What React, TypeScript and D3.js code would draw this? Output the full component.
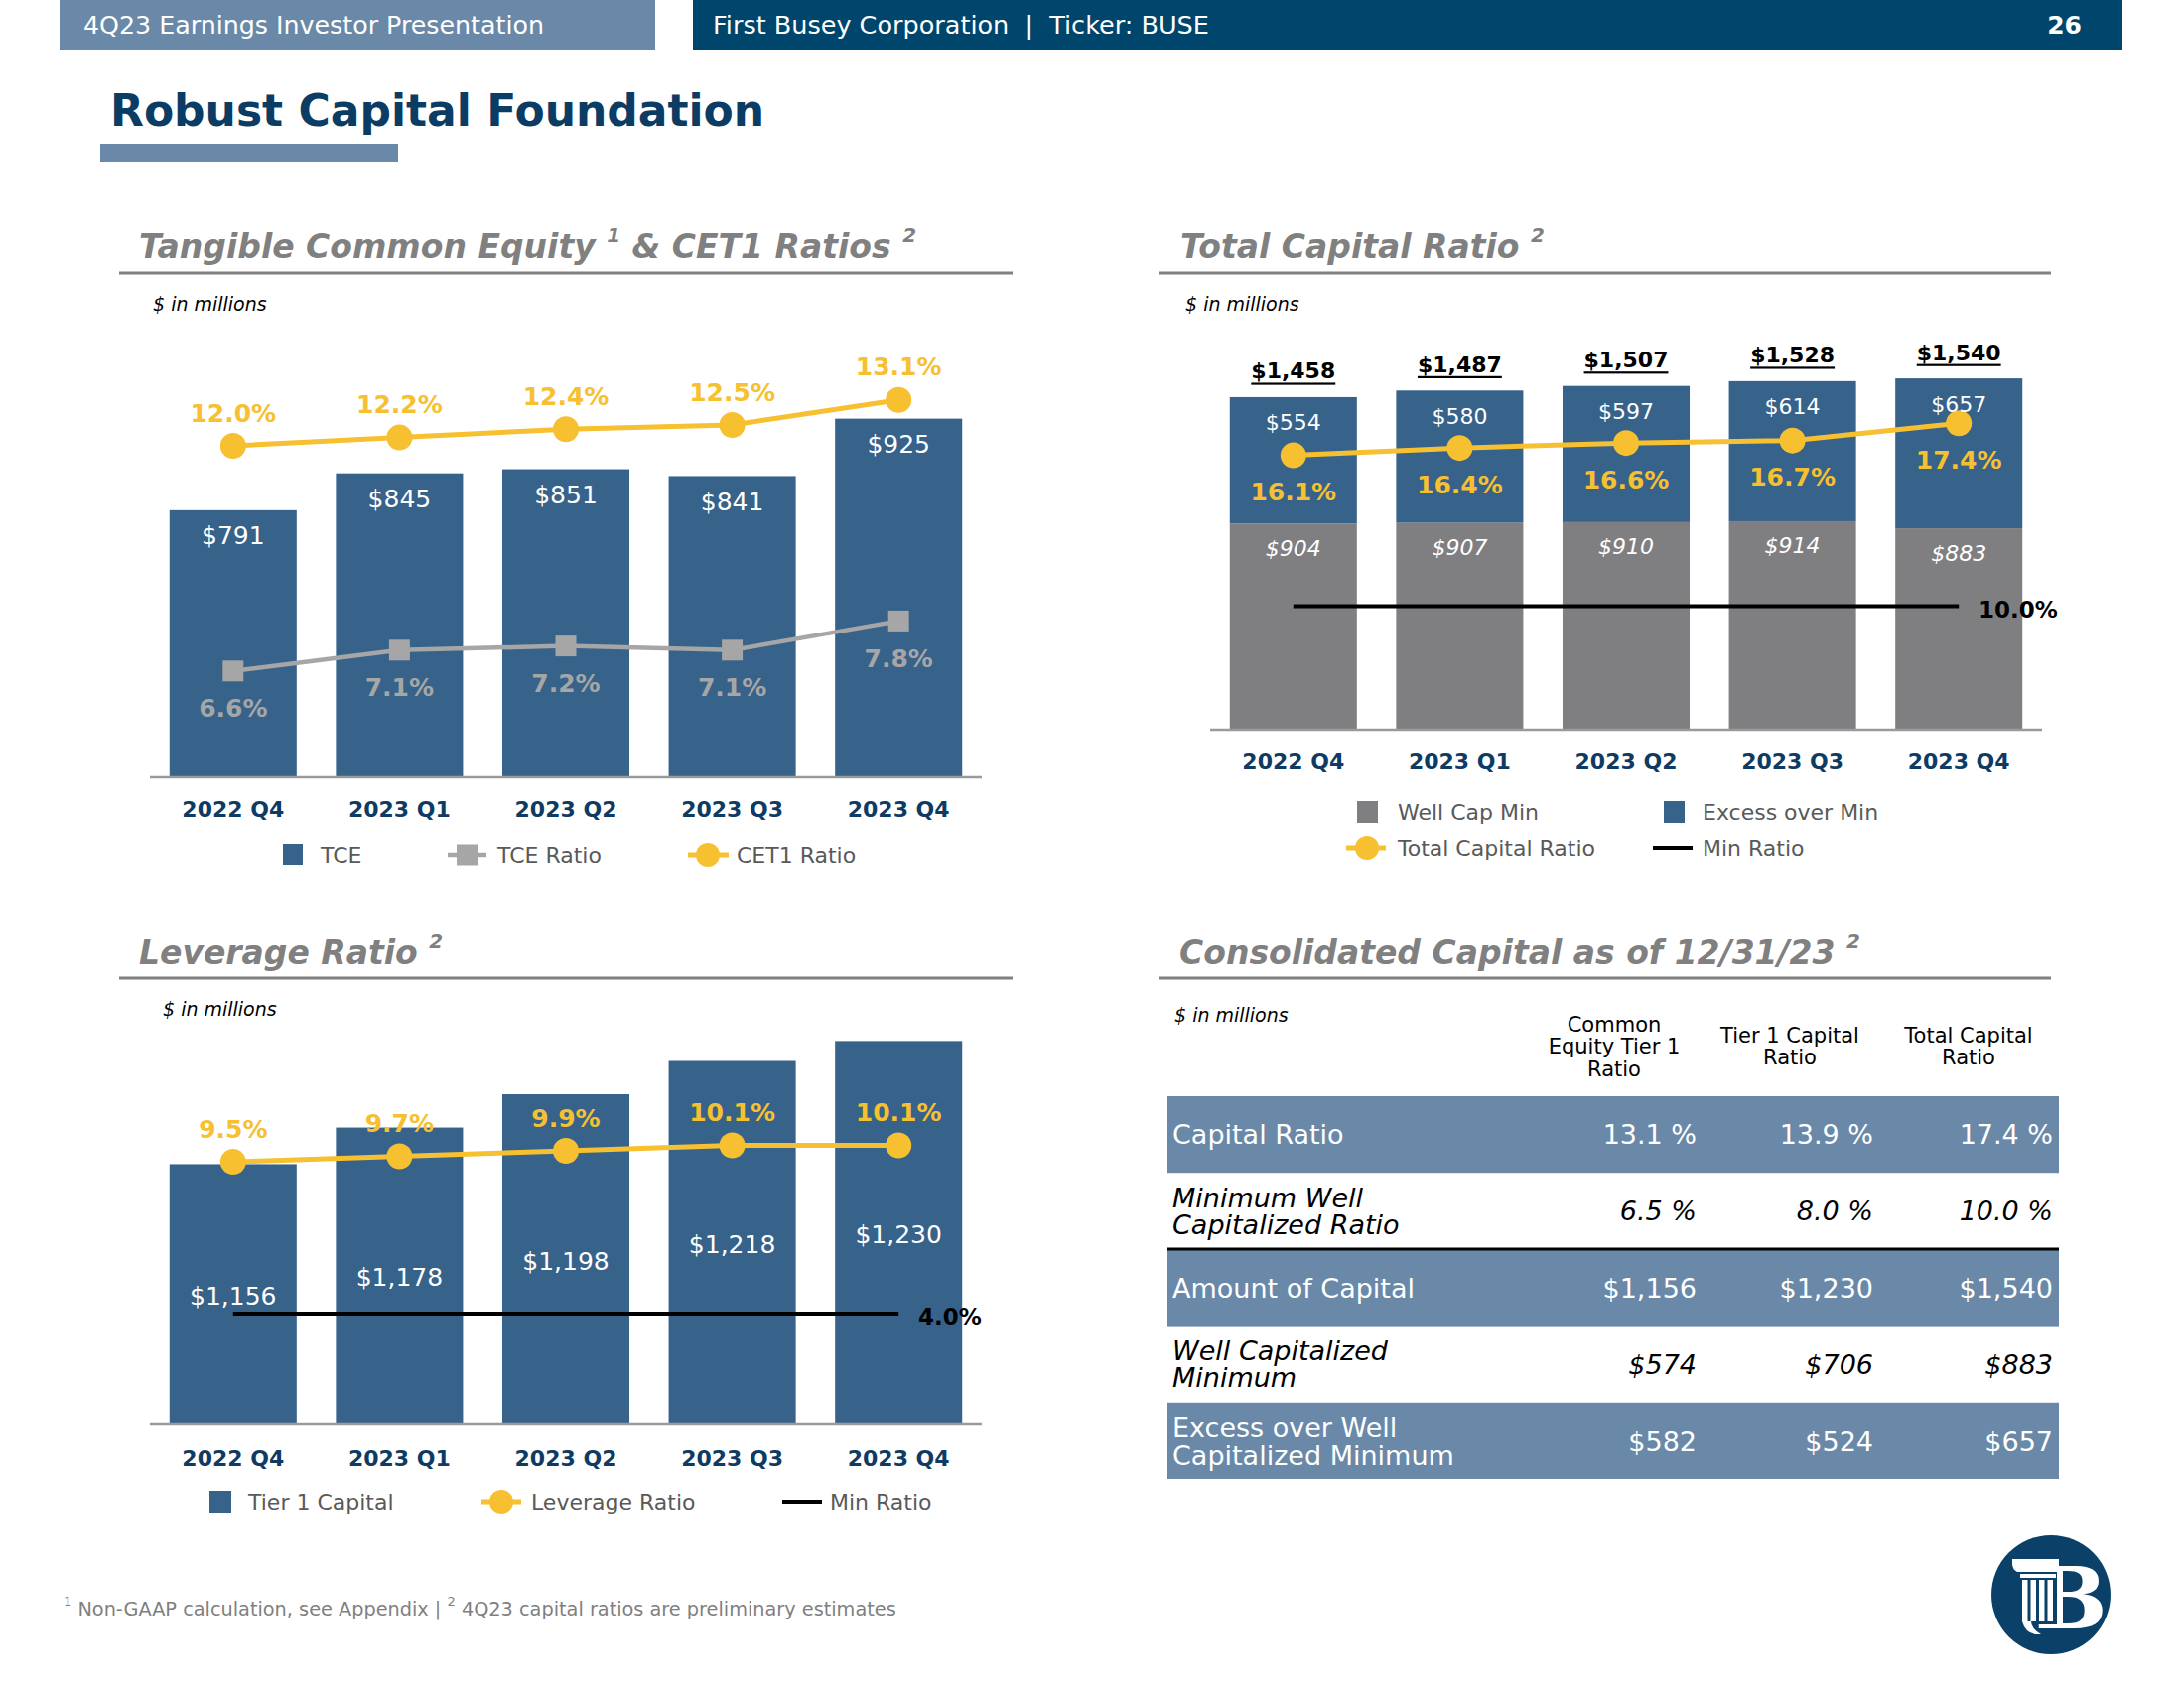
import React from 'react';
import * as d3 from 'd3';

const quarters = ['2022 Q4', '2023 Q1', '2023 Q2', '2023 Q3', '2023 Q4'];
const tceValues = [791, 845, 851, 841, 925];
const tceRatio = [6.6, 7.1, 7.2, 7.1, 7.8];
const cet1Ratio = [12.0, 12.2, 12.4, 12.5, 13.1];
const wellCapMin = [904, 907, 910, 914, 883];
const excessOverMin = [554, 580, 597, 614, 657];
const totalCapital = [1458, 1487, 1507, 1528, 1540];
const totalCapitalRatio = [16.1, 16.4, 16.6, 16.7, 17.4];
const totalCapitalMin = 10.0;
const tier1Capital = [1156, 1178, 1198, 1218, 1230];
const leverageRatio = [9.5, 9.7, 9.9, 10.1, 10.1];
const leverageMin = 4.0;

const tableHeaders = [['Common', 'Equity Tier 1', 'Ratio'], ['Tier 1 Capital', 'Ratio'], ['Total Capital', 'Ratio']];
const tableRowLabels = [['Capital Ratio'], ['Minimum Well', 'Capitalized Ratio'], ['Amount of Capital'], ['Well Capitalized', 'Minimum'], ['Excess over Well', 'Capitalized Minimum']];
const tableValues = [
  ['13.1 %', '13.9 %', '17.4 %'],
  ['6.5 %', '8.0 %', '10.0 %'],
  ['$1,156', '$1,230', '$1,540'],
  ['$574', '$706', '$883'],
  ['$582', '$524', '$657'],
];
const tableShaded = [true, false, true, false, true];

const FONT = 'DejaVu Sans';
const NAVY = '#00456B';
const STEEL = '#6A89A8';
const BAR = '#37628A';
const YELLOW = '#F6C030';
const GRAYLINE = '#A6A6A6';
const WELLGRAY = '#7F7F82';
const TITLEGRAY = '#808080';
const CATNAVY = '#0E3B63';
const LEGTEXT = '#595959';
const LOGO = '#0B4169';

const money = (v: number) => '$' + d3.format(',')(v);
const pct = (v: number) => v.toFixed(1) + '%';

function band(range: [number, number]) {
  return d3.scaleBand<string>().domain(quarters).range(range).paddingInner(0.236).paddingOuter(0.118);
}

function SectionTitle({ x, y, text, sups }: { x: number; y: number; text: string[]; sups: string[] }) {
  const parts: any[] = [];
  text.forEach((t, i) => {
    parts.push(<tspan key={'t' + i} dy={i === 0 ? 0 : 16}>{t}</tspan>);
    if (sups[i]) parts.push(<tspan key={'s' + i} dy={-16} fontSize={20}>{sups[i]}</tspan>);
  });
  return (
    <text x={x} y={y} fontFamily={FONT} fontWeight="bold" fontStyle="italic" fontSize={33} fill={TITLEGRAY}>
      {parts}
    </text>
  );
}

function Axis({ x, y }: { x: d3.ScaleBand<string>; y: number }) {
  const [a, b] = x.range();
  return <line x1={a} x2={b} y1={y} y2={y} stroke="#9A9A9A" strokeWidth={2.5} />;
}

function Categories({ x, y }: { x: d3.ScaleBand<string>; y: number }) {
  return (
    <g>
      {quarters.map((q) => (
        <text key={q} x={(x(q) as number) + x.bandwidth() / 2} y={y} textAnchor="middle" dominantBaseline="central"
          fontFamily={FONT} fontWeight="bold" fontSize={22} fill={CATNAVY}>{q}</text>
      ))}
    </g>
  );
}

function Chart1() {
  const x = band([151, 989]);
  const y = d3.scaleLinear().domain([400, 1000]).range([783, 370]);
  const yr = d3.scaleLinear().domain([4, 14]).range([785, 365]);
  const cx = (i: number) => (x(quarters[i]) as number) + x.bandwidth() / 2;
  const line = d3.line<number>().x((_, i) => cx(i)).y((d) => yr(d));
  return (
    <g>
      {tceValues.map((v, i) => (
        <rect key={i} x={x(quarters[i])} y={y(v)} width={x.bandwidth()} height={y(400) - y(v)} fill={BAR} />
      ))}
      <Axis x={x} y={783} />
      <path d={line(tceRatio) as string} fill="none" stroke={GRAYLINE} strokeWidth={4.5} />
      {tceRatio.map((v, i) => (
        <rect key={i} x={cx(i) - 10.5} y={yr(v) - 10.5} width={21} height={21} fill={GRAYLINE} />
      ))}
      <path d={line(cet1Ratio) as string} fill="none" stroke={YELLOW} strokeWidth={5} />
      {cet1Ratio.map((v, i) => (
        <circle key={i} cx={cx(i)} cy={yr(v)} r={13} fill={YELLOW} />
      ))}
      {tceValues.map((v, i) => (
        <text key={i} x={cx(i)} y={y(v) + 26} textAnchor="middle" dominantBaseline="central" fontFamily={FONT}
          fontSize={25} fill="#FFFFFF">{money(v)}</text>
      ))}
      {cet1Ratio.map((v, i) => (
        <text key={i} x={cx(i)} y={yr(v) - 33} textAnchor="middle" dominantBaseline="central" fontFamily={FONT}
          fontWeight="bold" fontSize={25} fill={YELLOW}>{pct(v)}</text>
      ))}
      {tceRatio.map((v, i) => (
        <text key={i} x={cx(i)} y={yr(v) + 38} textAnchor="middle" dominantBaseline="central" fontFamily={FONT}
          fontWeight="bold" fontSize={25} fill={GRAYLINE}>{pct(v)}</text>
      ))}
      <Categories x={x} y={815} />
      <rect x={285} y={850} width={20} height={21} fill={BAR} />
      <text x={323} y={861} dominantBaseline="central" fontFamily={FONT} fontSize={22} fill={LEGTEXT}>TCE</text>
      <line x1={451} x2={490} y1={861} y2={861} stroke={GRAYLINE} strokeWidth={4.5} />
      <rect x={460} y={850.5} width={21} height={21} fill={GRAYLINE} />
      <text x={501} y={861} dominantBaseline="central" fontFamily={FONT} fontSize={22} fill={LEGTEXT}>TCE Ratio</text>
      <line x1={693} x2={734} y1={861} y2={861} stroke={YELLOW} strokeWidth={5} />
      <circle cx={713} cy={861} r={12} fill={YELLOW} />
      <text x={742} y={861} dominantBaseline="central" fontFamily={FONT} fontSize={22} fill={LEGTEXT}>CET1 Ratio</text>
    </g>
  );
}

function Chart2() {
  const x = band([1219, 2057]);
  const y = d3.scaleLinear().domain([0, 1800]).range([735, 735 - 1800 * 0.2298]);
  const yr = d3.scaleLinear().domain([5, 20]).range([735, 735 - 15 * 24.9]);
  const cx = (i: number) => (x(quarters[i]) as number) + x.bandwidth() / 2;
  const line = d3.line<number>().x((_, i) => cx(i)).y((d) => yr(d));
  return (
    <g>
      {wellCapMin.map((v, i) => (
        <rect key={'g' + i} x={x(quarters[i])} y={y(v)} width={x.bandwidth()} height={y(0) - y(v)} fill={WELLGRAY} />
      ))}
      {excessOverMin.map((v, i) => (
        <rect key={'b' + i} x={x(quarters[i])} y={y(wellCapMin[i] + v)} width={x.bandwidth()}
          height={y(wellCapMin[i]) - y(wellCapMin[i] + v)} fill={BAR} />
      ))}
      <Axis x={x} y={735} />
      <line x1={cx(0)} x2={cx(4)} y1={yr(totalCapitalMin)} y2={yr(totalCapitalMin)} stroke="#000" strokeWidth={4} />
      <text x={1993} y={yr(totalCapitalMin) + 3} dominantBaseline="central" fontFamily={FONT} fontWeight="bold"
        fontSize={23} fill="#000">{pct(totalCapitalMin)}</text>
      <path d={line(totalCapitalRatio) as string} fill="none" stroke={YELLOW} strokeWidth={5} />
      {totalCapitalRatio.map((v, i) => (
        <circle key={i} cx={cx(i)} cy={yr(v)} r={13} fill={YELLOW} />
      ))}
      {totalCapital.map((v, i) => (
        <text key={'t' + i} x={cx(i)} y={y(v) - 26} textAnchor="middle" dominantBaseline="central" fontFamily={FONT}
          fontWeight="bold" fontSize={22} fill="#000" style={{ textDecoration: 'underline' }}>{money(v)}</text>
      ))}
      {excessOverMin.map((v, i) => (
        <text key={'e' + i} x={cx(i)} y={y(wellCapMin[i] + v) + 26} textAnchor="middle" dominantBaseline="central"
          fontFamily={FONT} fontSize={22} fill="#FFFFFF">{money(v)}</text>
      ))}
      {wellCapMin.map((v, i) => (
        <text key={'w' + i} x={cx(i)} y={y(v) + 25} textAnchor="middle" dominantBaseline="central"
          fontFamily={FONT} fontStyle="italic" fontSize={22} fill="#FFFFFF">{money(v)}</text>
      ))}
      {totalCapitalRatio.map((v, i) => (
        <text key={'r' + i} x={cx(i)} y={yr(v) + 37} textAnchor="middle" dominantBaseline="central" fontFamily={FONT}
          fontWeight="bold" fontSize={25} fill={YELLOW}>{pct(v)}</text>
      ))}
      <Categories x={x} y={766} />
      <rect x={1367} y={807} width={21} height={22} fill={WELLGRAY} />
      <text x={1408} y={818} dominantBaseline="central" fontFamily={FONT} fontSize={22} fill={LEGTEXT}>Well Cap Min</text>
      <rect x={1676} y={807} width={21} height={22} fill={BAR} />
      <text x={1715} y={818} dominantBaseline="central" fontFamily={FONT} fontSize={22} fill={LEGTEXT}>Excess over Min</text>
      <line x1={1356} x2={1396} y1={854} y2={854} stroke={YELLOW} strokeWidth={5} />
      <circle cx={1377} cy={854} r={12} fill={YELLOW} />
      <text x={1408} y={854} dominantBaseline="central" fontFamily={FONT} fontSize={22} fill={LEGTEXT}>Total Capital Ratio</text>
      <line x1={1665} x2={1705} y1={854} y2={854} stroke="#000" strokeWidth={4} />
      <text x={1715} y={854} dominantBaseline="central" fontFamily={FONT} fontSize={22} fill={LEGTEXT}>Min Ratio</text>
    </g>
  );
}

function Chart3() {
  const x = band([151, 989]);
  const y = d3.scaleLinear().domain([1000, 1300]).range([1434, 931]);
  const yr = d3.scaleLinear().domain([0, 18]).range([1434, 934]);
  const cx = (i: number) => (x(quarters[i]) as number) + x.bandwidth() / 2;
  const line = d3.line<number>().x((_, i) => cx(i)).y((d) => yr(d));
  return (
    <g>
      {tier1Capital.map((v, i) => (
        <rect key={i} x={x(quarters[i])} y={y(v)} width={x.bandwidth()} height={y(1000) - y(v)} fill={BAR} />
      ))}
      <Axis x={x} y={1434} />
      {tier1Capital.map((v, i) => (
        <text key={'l' + i} x={cx(i)} y={(y(v) + y(1000)) / 2 + 2} textAnchor="middle" dominantBaseline="central"
          fontFamily={FONT} fontSize={25} fill="#FFFFFF">{money(v)}</text>
      ))}
      <line x1={cx(0)} x2={cx(4)} y1={yr(leverageMin)} y2={yr(leverageMin)} stroke="#000" strokeWidth={4} />
      <text x={925} y={yr(leverageMin) + 3} dominantBaseline="central" fontFamily={FONT} fontWeight="bold"
        fontSize={23} fill="#000">{pct(leverageMin)}</text>
      <path d={line(leverageRatio) as string} fill="none" stroke={YELLOW} strokeWidth={5} />
      {leverageRatio.map((v, i) => (
        <circle key={i} cx={cx(i)} cy={yr(v)} r={13} fill={YELLOW} />
      ))}
      {leverageRatio.map((v, i) => (
        <text key={'r' + i} x={cx(i)} y={yr(v) - 33} textAnchor="middle" dominantBaseline="central" fontFamily={FONT}
          fontWeight="bold" fontSize={25} fill={YELLOW}>{pct(v)}</text>
      ))}
      <Categories x={x} y={1468} />
      <rect x={211} y={1502} width={22} height={22} fill={BAR} />
      <text x={250} y={1513} dominantBaseline="central" fontFamily={FONT} fontSize={22} fill={LEGTEXT}>Tier 1 Capital</text>
      <line x1={485} x2={525} y1={1513} y2={1513} stroke={YELLOW} strokeWidth={5} />
      <circle cx={505} cy={1513} r={12} fill={YELLOW} />
      <text x={535} y={1513} dominantBaseline="central" fontFamily={FONT} fontSize={22} fill={LEGTEXT}>Leverage Ratio</text>
      <line x1={788} x2={828} y1={1513} y2={1513} stroke="#000" strokeWidth={4} />
      <text x={836} y={1513} dominantBaseline="central" fontFamily={FONT} fontSize={22} fill={LEGTEXT}>Min Ratio</text>
    </g>
  );
}

function Table() {
  const rows = d3.scaleBand<number>().domain(d3.range(tableRowLabels.length)).range([1104, 1490]);
  const colCenters = [1626, 1803, 1983];
  const colRight = [1709, 1887, 2068];
  return (
    <g>
      <text x={1183} y={1022} dominantBaseline="central" fontFamily={FONT} fontStyle="italic" fontSize={19} fill="#000">$ in millions</text>
      {tableHeaders.map((lines, c) => {
        const top = lines.length === 3 ? 1032 : 1043;
        return lines.map((l, k) => (
          <text key={c + '-' + k} x={colCenters[c]} y={top + k * 22.3} textAnchor="middle" dominantBaseline="central"
            fontFamily={FONT} fontSize={21} fill="#000">{l}</text>
        ));
      })}
      {tableRowLabels.map((lab, r) => {
        const y0 = rows(r) as number;
        const h = rows.bandwidth();
        const mid = y0 + h / 2;
        const shaded = tableShaded[r];
        const color = shaded ? '#FFFFFF' : '#000000';
        const style = shaded ? 'normal' : 'italic';
        return (
          <g key={r}>
            {shaded && <rect x={1176} y={y0} width={898} height={h} fill={STEEL} />}
            {lab.map((l, k) => (
              <text key={k} x={1181} y={mid + (k - (lab.length - 1) / 2) * 27.5} dominantBaseline="central"
                fontFamily={FONT} fontStyle={style} fontSize={27} fill={color}>{l}</text>
            ))}
            {tableValues[r].map((v, c) => (
              <text key={'v' + c} x={colRight[c]} y={mid} textAnchor="end" dominantBaseline="central"
                fontFamily={FONT} fontStyle={style} fontSize={27} fill={color}>{v}</text>
            ))}
          </g>
        );
      })}
      <line x1={1176} x2={2074} y1={(rows(2) as number) - 0.5} y2={(rows(2) as number) - 0.5} stroke="#000" strokeWidth={3} />
    </g>
  );
}

function Logo() {
  return (
    <g>
      <ellipse cx={2066} cy={1606} rx={60} ry={60} fill={LOGO} />
      <text x={2086} y={1609} textAnchor="middle" dominantBaseline="central" fontFamily="DejaVu Serif" fontWeight="bold" fontSize={86} fill="#FFFFFF">B</text>
      <rect x={2036} y={1572} width={36} height={64} fill={LOGO} />
      <path d="M2027,1570 L2074,1570 L2074,1583 L2032,1583 Q2027,1580 2027,1575 Z" fill="#FFFFFF" />
      <rect x={2035} y={1585} width={36} height={4} fill="#FFFFFF" />
      {[0, 1, 2, 3].map((k) => (
        <rect key={k} x={2037 + k * 8.5} y={1591} width={5.5} height={42} fill="#FFFFFF" />
      ))}
      <path d="M2037,1633 Q2040,1644 2050,1646 L2056,1646 Q2046,1640 2046,1633 Z" fill="#FFFFFF" />
    </g>
  );
}

export default function App() {
  return (
    <svg width={2200} height={1700} viewBox="0 0 2200 1700" style={{ position: 'absolute', left: 0, top: 0, background: '#fff' }}>
      <rect x={0} y={0} width={2200} height={1700} fill="#FFFFFF" />
      <rect x={60} y={0} width={600} height={50} fill={STEEL} />
      <text x={84} y={25} dominantBaseline="central" fontFamily={FONT} fontSize={25.3} fill="#FFFFFF">4Q23 Earnings Investor Presentation</text>
      <rect x={698} y={0} width={1440} height={50} fill={NAVY} />
      <text x={718} y={25} dominantBaseline="central" fontFamily={FONT} fontSize={25.5} fill="#FFFFFF">{'First Busey Corporation\u00a0\u00a0|\u00a0\u00a0Ticker: BUSE'}</text>
      <text x={2097} y={25} textAnchor="end" dominantBaseline="central" fontFamily={FONT} fontWeight="bold" fontSize={25} fill="#FFFFFF">26</text>
      <text x={111} y={127} fontFamily={FONT} fontWeight="bold" fontSize={44} fill="#0B3C64">Robust Capital Foundation</text>
      <rect x={101} y={145} width={300} height={18} fill={STEEL} />

      <SectionTitle x={140} y={260} text={['Tangible Common Equity ', ' & CET1 Ratios ']} sups={['1', '2']} />
      <line x1={120} x2={1020} y1={275} y2={275} stroke={TITLEGRAY} strokeWidth={3} />
      <text x={154} y={306} dominantBaseline="central" fontFamily={FONT} fontStyle="italic" fontSize={19} fill="#000">$ in millions</text>

      <SectionTitle x={1189} y={260} text={['Total Capital Ratio ']} sups={['2']} />
      <line x1={1167} x2={2066} y1={275} y2={275} stroke={TITLEGRAY} strokeWidth={3} />
      <text x={1194} y={306} dominantBaseline="central" fontFamily={FONT} fontStyle="italic" fontSize={19} fill="#000">$ in millions</text>

      <SectionTitle x={140} y={971} text={['Leverage Ratio ']} sups={['2']} />
      <line x1={120} x2={1020} y1={985} y2={985} stroke={TITLEGRAY} strokeWidth={3} />
      <text x={164} y={1016} dominantBaseline="central" fontFamily={FONT} fontStyle="italic" fontSize={19} fill="#000">$ in millions</text>

      <SectionTitle x={1188} y={971} text={['Consolidated Capital as of 12/31/23 ']} sups={['2']} />
      <line x1={1167} x2={2066} y1={985} y2={985} stroke={TITLEGRAY} strokeWidth={3} />

      <Chart1 />
      <Chart2 />
      <Chart3 />
      <Table />

      <text x={64} y={1620} dominantBaseline="central" fontFamily={FONT} fontSize={19.3} fill="#7F7F7F">
        <tspan fontSize={13} dy={-8}>1</tspan>
        <tspan dy={8}>{'\u00a0Non-GAAP calculation, see Appendix | '}</tspan>
        <tspan fontSize={13} dy={-8}>2</tspan>
        <tspan dy={8}>{'\u00a04Q23 capital ratios are preliminary estimates'}</tspan>
      </text>

      <Logo />
    </svg>
  );
}
